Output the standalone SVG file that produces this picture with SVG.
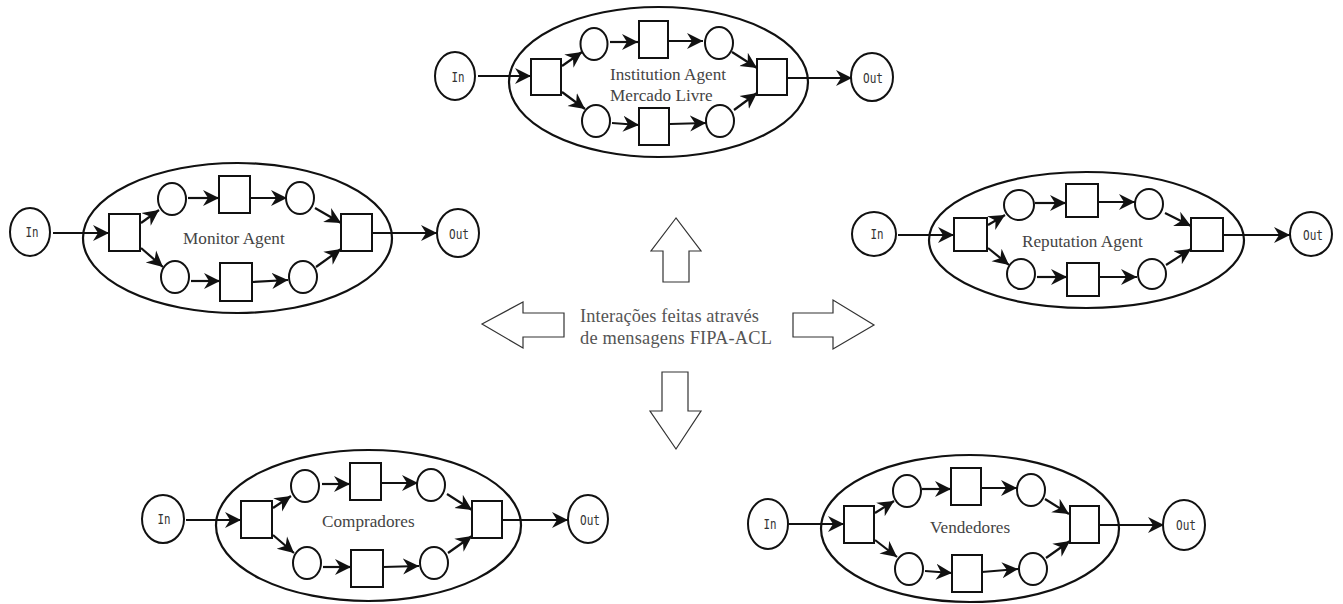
<svg xmlns="http://www.w3.org/2000/svg" width="1343" height="604" viewBox="0 0 1343 604">
<style>
.n{fill:#fff;stroke:#111;stroke-width:2}
.e{fill:none;stroke:#111;stroke-width:2.2}
.b{fill:#fff;stroke:#333;stroke-width:1.2}
.c{fill:none;stroke:#111;stroke-width:2.2;marker-end:url(#a)}
.l{font-family:"Liberation Serif",serif;font-size:17.2px;fill:#444}
.m{font-family:"Liberation Serif",serif;font-size:18.4px;fill:#555}
.p{font-family:"DejaVu Sans Mono",monospace;font-size:14.5px;fill:#333;text-anchor:middle}
</style>
<defs>
<marker id="a" markerUnits="userSpaceOnUse" markerWidth="17" markerHeight="18" refX="16" refY="9" orient="auto">
<path d="M0,1 L16,9 L0,17 L5,9 Z" fill="#111"/>
</marker>
</defs>
<rect width="1343" height="604" fill="#fff"/>
<g id="connectors">
<path class="c" d="M478,76H531"/><path class="c" d="M562,66L582,52"/><path class="c" d="M562,92L585,109"/><path class="c" d="M610,42H638"/><path class="c" d="M669,41H703"/><path class="c" d="M732,52L757,68"/><path class="c" d="M612,123L639,125"/><path class="c" d="M670,124L706,123"/><path class="c" d="M734,110L757,93"/><path class="c" d="M787,78H852"/>
<path class="c" d="M53,233H109"/><path class="c" d="M141,223L159,210"/><path class="c" d="M141,248L163,267"/><path class="c" d="M188,198H219"/><path class="c" d="M251,198H287"/><path class="c" d="M315,208L341,223"/><path class="c" d="M191,281H220"/><path class="c" d="M252,282L288,280"/><path class="c" d="M316,267L341,249"/><path class="c" d="M372,233H437"/>
<path class="c" d="M898,235H954"/><path class="c" d="M988,225L1005,215"/><path class="c" d="M988,248L1009,265"/><path class="c" d="M1035,203H1066"/><path class="c" d="M1099,202H1135"/><path class="c" d="M1165,213L1191,226"/><path class="c" d="M1037,277H1067"/><path class="c" d="M1100,277H1137"/><path class="c" d="M1166,265L1191,249"/><path class="c" d="M1223,235H1290"/>
<path class="c" d="M186,520H241"/><path class="c" d="M273,508L291,496"/><path class="c" d="M273,535L294,553"/><path class="c" d="M322,484H350"/><path class="c" d="M382,483H418"/><path class="c" d="M447,494L472,510"/><path class="c" d="M323,567H351"/><path class="c" d="M383,567L419,566"/><path class="c" d="M448,553L472,536"/><path class="c" d="M502,520H568"/>
<path class="c" d="M789,524H844"/><path class="c" d="M875,513L894,501"/><path class="c" d="M875,540L897,557"/><path class="c" d="M922,489H951"/><path class="c" d="M981,488H1017"/><path class="c" d="M1045,499L1069,514"/><path class="c" d="M925,571L952,573"/><path class="c" d="M982,572L1018,569"/><path class="c" d="M1046,558L1070,541"/><path class="c" d="M1100,525H1164"/>
</g>
<g id="institution-agent"><ellipse class="e" cx="658.5" cy="82" rx="149.5" ry="75"/><text class="l" x="610" y="80">Institution Agent</text><text class="l" x="610" y="101">Mercado Livre</text></g>
<g id="institution-in"><ellipse class="n" cx="455" cy="76" rx="20" ry="24"/><text class="p" x="458" y="82" textLength="13" lengthAdjust="spacingAndGlyphs">In</text></g>
<g id="institution-out"><ellipse class="n" cx="872" cy="77" rx="21" ry="24"/><text class="p" x="873" y="83" textLength="20" lengthAdjust="spacingAndGlyphs">Out</text></g>
<g id="institution-t1"><rect class="n" x="531" y="59" width="30" height="36"/></g>
<g id="institution-t2"><rect class="n" x="639" y="21" width="29" height="37"/></g>
<g id="institution-t3"><rect class="n" x="639" y="108" width="30" height="37"/></g>
<g id="institution-t4"><rect class="n" x="757" y="59" width="30" height="36"/></g>
<g id="institution-p1"><ellipse class="n" cx="594" cy="44" rx="13.5" ry="16"/></g>
<g id="institution-p2"><ellipse class="n" cx="719" cy="43" rx="14" ry="16"/></g>
<g id="institution-p3"><ellipse class="n" cx="596" cy="121" rx="14" ry="16"/></g>
<g id="institution-p4"><ellipse class="n" cx="720" cy="121" rx="14" ry="16"/></g>

<g id="monitor-agent"><ellipse class="e" cx="237.5" cy="238" rx="154.5" ry="75"/><text class="l" x="183" y="244">Monitor Agent</text></g>
<g id="monitor-in"><ellipse class="n" cx="30" cy="232" rx="20" ry="24"/><text class="p" x="32" y="237" textLength="13" lengthAdjust="spacingAndGlyphs">In</text></g>
<g id="monitor-out"><ellipse class="n" cx="458" cy="233" rx="21" ry="24"/><text class="p" x="459" y="239" textLength="20" lengthAdjust="spacingAndGlyphs">Out</text></g>
<g id="monitor-t1"><rect class="n" x="109" y="214" width="31" height="37"/></g>
<g id="monitor-t2"><rect class="n" x="219" y="176" width="31" height="37"/></g>
<g id="monitor-t3"><rect class="n" x="220" y="263" width="32" height="38"/></g>
<g id="monitor-t4"><rect class="n" x="341" y="214" width="31" height="37"/></g>
<g id="monitor-p1"><ellipse class="n" cx="172" cy="199" rx="14" ry="16"/></g>
<g id="monitor-p2"><ellipse class="n" cx="300" cy="198" rx="14" ry="16"/></g>
<g id="monitor-p3"><ellipse class="n" cx="175" cy="277" rx="14" ry="16"/></g>
<g id="monitor-p4"><ellipse class="n" cx="303" cy="277" rx="14" ry="16"/></g>

<g id="reputation-agent"><ellipse class="e" cx="1086.5" cy="240" rx="157.5" ry="68"/><text class="l" x="1022" y="247">Reputation Agent</text></g>
<g id="reputation-in"><ellipse class="n" cx="874" cy="234" rx="22" ry="22"/><text class="p" x="877" y="239" textLength="13" lengthAdjust="spacingAndGlyphs">In</text></g>
<g id="reputation-out"><ellipse class="n" cx="1311" cy="234" rx="21" ry="22"/><text class="p" x="1313" y="240" textLength="20" lengthAdjust="spacingAndGlyphs">Out</text></g>
<g id="reputation-t1"><rect class="n" x="954" y="218" width="33" height="33"/></g>
<g id="reputation-t2"><rect class="n" x="1066" y="184" width="32" height="33"/></g>
<g id="reputation-t3"><rect class="n" x="1067" y="263" width="32" height="33"/></g>
<g id="reputation-t4"><rect class="n" x="1191" y="218" width="32" height="33"/></g>
<g id="reputation-p1"><ellipse class="n" cx="1019" cy="205" rx="15" ry="15"/></g>
<g id="reputation-p2"><ellipse class="n" cx="1149" cy="204" rx="14" ry="15"/></g>
<g id="reputation-p3"><ellipse class="n" cx="1021" cy="274" rx="14" ry="15"/></g>
<g id="reputation-p4"><ellipse class="n" cx="1152" cy="274" rx="14" ry="15"/></g>

<g id="compradores"><ellipse class="e" cx="368.5" cy="525.5" rx="152.5" ry="75.5"/><text class="l" x="322" y="527">Compradores</text></g>
<g id="compradores-in"><ellipse class="n" cx="163" cy="519" rx="21" ry="24"/><text class="p" x="164" y="524" textLength="13" lengthAdjust="spacingAndGlyphs">In</text></g>
<g id="compradores-out"><ellipse class="n" cx="588" cy="519" rx="20" ry="24"/><text class="p" x="590" y="525" textLength="20" lengthAdjust="spacingAndGlyphs">Out</text></g>
<g id="compradores-t1"><rect class="n" x="241" y="501" width="31" height="37"/></g>
<g id="compradores-t2"><rect class="n" x="350" y="463" width="31" height="37"/></g>
<g id="compradores-t3"><rect class="n" x="351" y="550" width="32" height="37"/></g>
<g id="compradores-t4"><rect class="n" x="472" y="501" width="30" height="37"/></g>
<g id="compradores-p1"><ellipse class="n" cx="305" cy="486" rx="14" ry="16"/></g>
<g id="compradores-p2"><ellipse class="n" cx="431" cy="485" rx="14" ry="16"/></g>
<g id="compradores-p3"><ellipse class="n" cx="307" cy="563" rx="14" ry="16"/></g>
<g id="compradores-p4"><ellipse class="n" cx="434" cy="563" rx="14" ry="16"/></g>

<g id="vendedores"><ellipse class="e" cx="970" cy="528.5" rx="149" ry="73.5"/><text class="l" x="930" y="533">Vendedores</text></g>
<g id="vendedores-in"><ellipse class="n" cx="768" cy="524" rx="20" ry="25"/><text class="p" x="770" y="529" textLength="13" lengthAdjust="spacingAndGlyphs">In</text></g>
<g id="vendedores-out"><ellipse class="n" cx="1184" cy="525" rx="21" ry="25"/><text class="p" x="1186" y="530" textLength="20" lengthAdjust="spacingAndGlyphs">Out</text></g>
<g id="vendedores-t1"><rect class="n" x="844" y="506" width="30" height="37"/></g>
<g id="vendedores-t2"><rect class="n" x="951" y="468" width="30" height="37"/></g>
<g id="vendedores-t3"><rect class="n" x="952" y="555" width="30" height="37"/></g>
<g id="vendedores-t4"><rect class="n" x="1070" y="506" width="29" height="37"/></g>
<g id="vendedores-p1"><ellipse class="n" cx="907" cy="491" rx="14" ry="16"/></g>
<g id="vendedores-p2"><ellipse class="n" cx="1031" cy="490" rx="14" ry="16"/></g>
<g id="vendedores-p3"><ellipse class="n" cx="909" cy="569" rx="14" ry="16"/></g>
<g id="vendedores-p4"><ellipse class="n" cx="1033" cy="569" rx="14" ry="16"/></g>

<g id="interactions">
<polygon class="b" points="676,218 651,251 663,251 663,282 689,282 689,251 701,251"/>
<polygon class="b" points="482,324 523,302 523,313 564,313 564,337 523,337 523,348"/>
<polygon class="b" points="793,313 833,313 833,300 874,325 833,349 833,337 793,337"/>
<polygon class="b" points="662,372 688,372 688,411 701,411 676,449 650,411 662,411"/>
<text class="m" x="580" y="322" textLength="179" lengthAdjust="spacing">Interações feitas através</text>
<text class="m" x="580" y="344" textLength="192" lengthAdjust="spacing">de mensagens FIPA-ACL</text>
</g>
</svg>
